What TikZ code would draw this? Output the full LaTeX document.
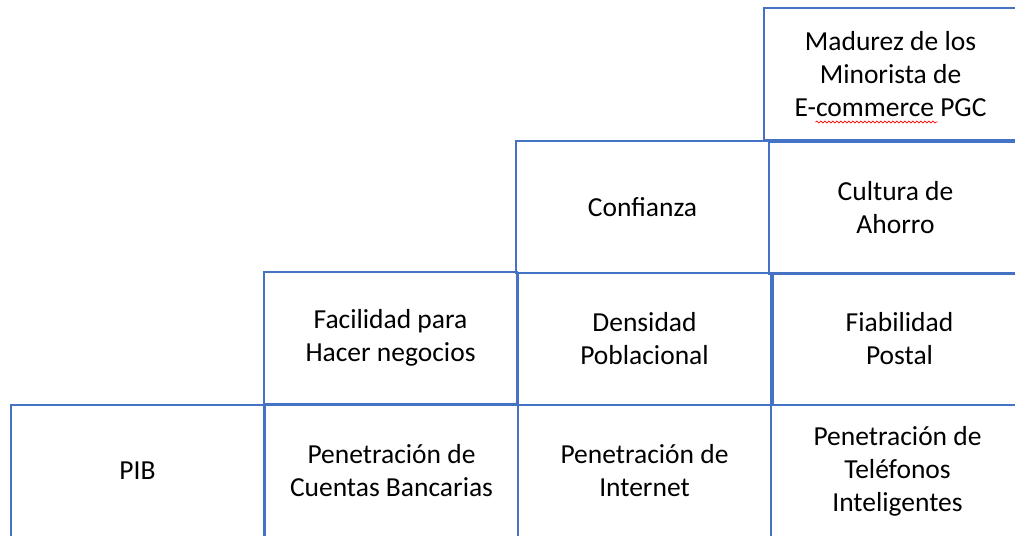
\documentclass[tikz,border=0pt]{standalone}
\usepackage{fontspec}
\setmainfont{Carlito}
\usetikzlibrary{decorations.pathmorphing}
\definecolor{cellblue}{RGB}{68,114,196}
\newcommand{\cellw}{126.5pt}
\newcommand{\cellh}{66pt}
\newcommand{\cellfont}{\fontsize{13.75}{16.5}\selectfont}
\tikzset{
  cell/.style={draw=cellblue, line width=0.7pt, anchor=north west,
    inner sep=0pt, outer sep=0pt, align=center, font=\cellfont,
    minimum width=\cellw, minimum height=\cellh},
  spellmark/.style={draw=red, line width=0.35pt, decorate,
    decoration={snake, amplitude=0.5pt, segment length=2pt}}
}
\begin{document}
\begin{tikzpicture}[x=0.5pt,y=-0.5pt]
    \useasboundingbox (0,0) rectangle (1015,535);
    \clip (0,0) rectangle (1015,535);
    % bottom row
    \node[cell] (pib) at (11,405) {PIB};
    \node[cell] (cuentas) at (265,405) {Penetración de\\Cuentas Bancarias};
    \node[cell] (internet) at (518,405) {Penetración de\\Internet};
    \node[cell] (telefonos) at (771,405) {Penetración de\\Teléfonos\\Inteligentes};
    % second row
    \node[cell] (facilidad) at (264,272) {Facilidad para\\Hacer negocios};
    \node[cell] (densidad) at (518,273) {Densidad\\Poblacional};
    \node[cell] (fiabilidad) at (773,273) {Fiabilidad\\Postal};
    % third row
    \node[cell] (confianza) at (516,141) {Confianza};
    \node[cell] (cultura) at (769,142) {Cultura de\\Ahorro};
    % top
    \node[cell] (madurez) at (764,8) {Madurez de los\\Minorista de\\E-commerce PGC};
    \draw[spellmark, shift={(madurez.center)}] (-75,48) -- (47,48);
\end{tikzpicture}
\end{document}
